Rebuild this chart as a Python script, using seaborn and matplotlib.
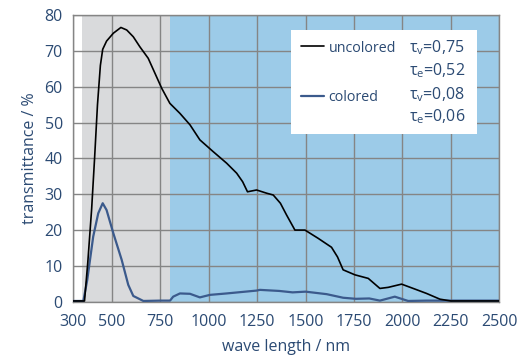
import numpy as np
import pandas as pd
import matplotlib.pyplot as plt
import seaborn as sns
from matplotlib.patches import Rectangle

# uncolored glass (black curve)
wl_uncolored = [300, 358, 375, 395, 410, 425, 440, 452, 472, 507, 546, 576, 610, 644,
                687, 722, 757, 799, 851, 903, 954, 1023, 1092, 1144, 1175, 1200,
                1247, 1299, 1333, 1370, 1402, 1445, 1497, 1565, 1634, 1665, 1694,
                1755, 1824, 1884, 1927, 1996, 2056, 2125, 2194, 2250, 2350, 2500]
tr_uncolored = [0.2, 0.2, 11.0, 26.0, 40.0, 55.0, 66.0, 70.5, 72.8, 75.0, 76.6,
                75.9, 74.0, 71.2, 68.0, 63.8, 59.6, 55.4, 52.6, 49.4, 45.2, 41.9,
                38.7, 35.9, 33.5, 30.7, 31.2, 30.3, 29.8, 27.5, 24.2, 20.0, 20.0,
                17.7, 15.2, 12.5, 8.9, 7.5, 6.5, 3.7, 4.0, 4.9, 3.7, 2.3, 0.7, 0.2,
                0.2, 0.2]

# colored glass (blue curve)
wl_colored = [300, 352, 372, 403, 429, 452, 472, 507, 550, 584, 610, 662, 750, 800,
              816, 851, 903, 954, 1006, 1092, 1247, 1264, 1364, 1433, 1500, 1609,
              1694, 1760, 1829, 1884, 1961, 2030, 2125, 2300, 2500]
tr_colored = [0.2, 0.2, 6.0, 18.2, 24.7, 27.5, 25.6, 19.1, 11.7, 4.7, 1.6, 0.2, 0.3,
              0.3, 1.4, 2.3, 2.2, 1.2, 1.9, 2.3, 3.1, 3.3, 3.0, 2.6, 2.8, 2.1, 1.1,
              0.8, 0.9, 0.3, 1.4, 0.2, 0.3, 0.3, 0.3]

# shaded spectral bands (visible / infrared)
band_visible = (345, 800)
band_infrared = (800, 2500)

x_ticks = [300, 500, 750, 1000, 1250, 1500, 1750, 2000, 2250, 2500]
y_ticks = list(range(0, 81, 10))

legend_tau = ["τ$_\\mathrm{v}$=0,75", "τ$_\\mathrm{e}$=0,52",
              "τ$_\\mathrm{v}$=0,08", "τ$_\\mathrm{e}$=0,06"]

text_col = '#2b4a73'
grid_col = '#858585'
fs = 11.5
fs_leg = 10.3

sns.set_style('white')
plt.rcParams['font.family'] = ['Open Sans', 'DejaVu Sans']
plt.rcParams['font.size'] = fs
plt.rcParams['mathtext.fontset'] = 'custom'
plt.rcParams['mathtext.rm'] = 'Open Sans'

df_unc = pd.DataFrame({'wl': wl_uncolored, 'tr': tr_uncolored})
df_col = pd.DataFrame({'wl': wl_colored, 'tr': tr_colored})

fig, ax = plt.subplots(figsize=(5.31, 3.6), dpi=100)
fig.subplots_adjust(left=0.138, right=0.940, top=0.9575, bottom=0.162)

ax.axvspan(*band_visible, color='#d9dadc', lw=0, zorder=0)
ax.axvspan(*band_infrared, color='#9ccbe8', lw=0, zorder=0)

sns.lineplot(data=df_unc, x='wl', y='tr', color='black', lw=1.2, ax=ax,
             label='uncolored', zorder=4)
sns.lineplot(data=df_col, x='wl', y='tr', color='#3b5a8c', lw=1.6, ax=ax,
             label='colored', zorder=3)

ax.set_xlim(300, 2500)
ax.set_ylim(0, 80)
ax.set_xticks(x_ticks)
ax.set_yticks(y_ticks)
ax.grid(True, color=grid_col, lw=1.0, zorder=1)
ax.set_axisbelow(False)
for sp in ax.spines.values():
    sp.set_color(grid_col)
    sp.set_linewidth(1.0)
ax.tick_params(colors=grid_col, labelcolor=text_col, length=4, width=1.0,
               direction='out', pad=3.5, labelsize=fs)
ax.tick_params(axis='x', pad=5)
ax.set_xlabel('wave length / nm', color=text_col, fontsize=fs, labelpad=6)
ax.set_ylabel('transmittance / %', color=text_col, fontsize=fs, labelpad=5)

# white legend box
ax.add_patch(Rectangle((0.511, 0.5855), 0.437, 0.3632, transform=ax.transAxes,
                       facecolor='white', edgecolor='none', zorder=5))
leg = ax.legend(loc='upper left', bbox_to_anchor=(0.534, 0.912), frameon=False,
                handlelength=1.6, handletextpad=0.35, labelspacing=2.4,
                borderpad=0, borderaxespad=0, fontsize=fs_leg)
leg.set_zorder(6)
for t in leg.get_texts():
    t.set_color(text_col)

for txt, yy in zip(legend_tau, [0.886, 0.806, 0.7225, 0.646]):
    ax.text(0.789, yy, txt, transform=ax.transAxes, ha='left', va='center',
            color=text_col, fontsize=fs, zorder=7)

fig.savefig('out.png', dpi=100)
